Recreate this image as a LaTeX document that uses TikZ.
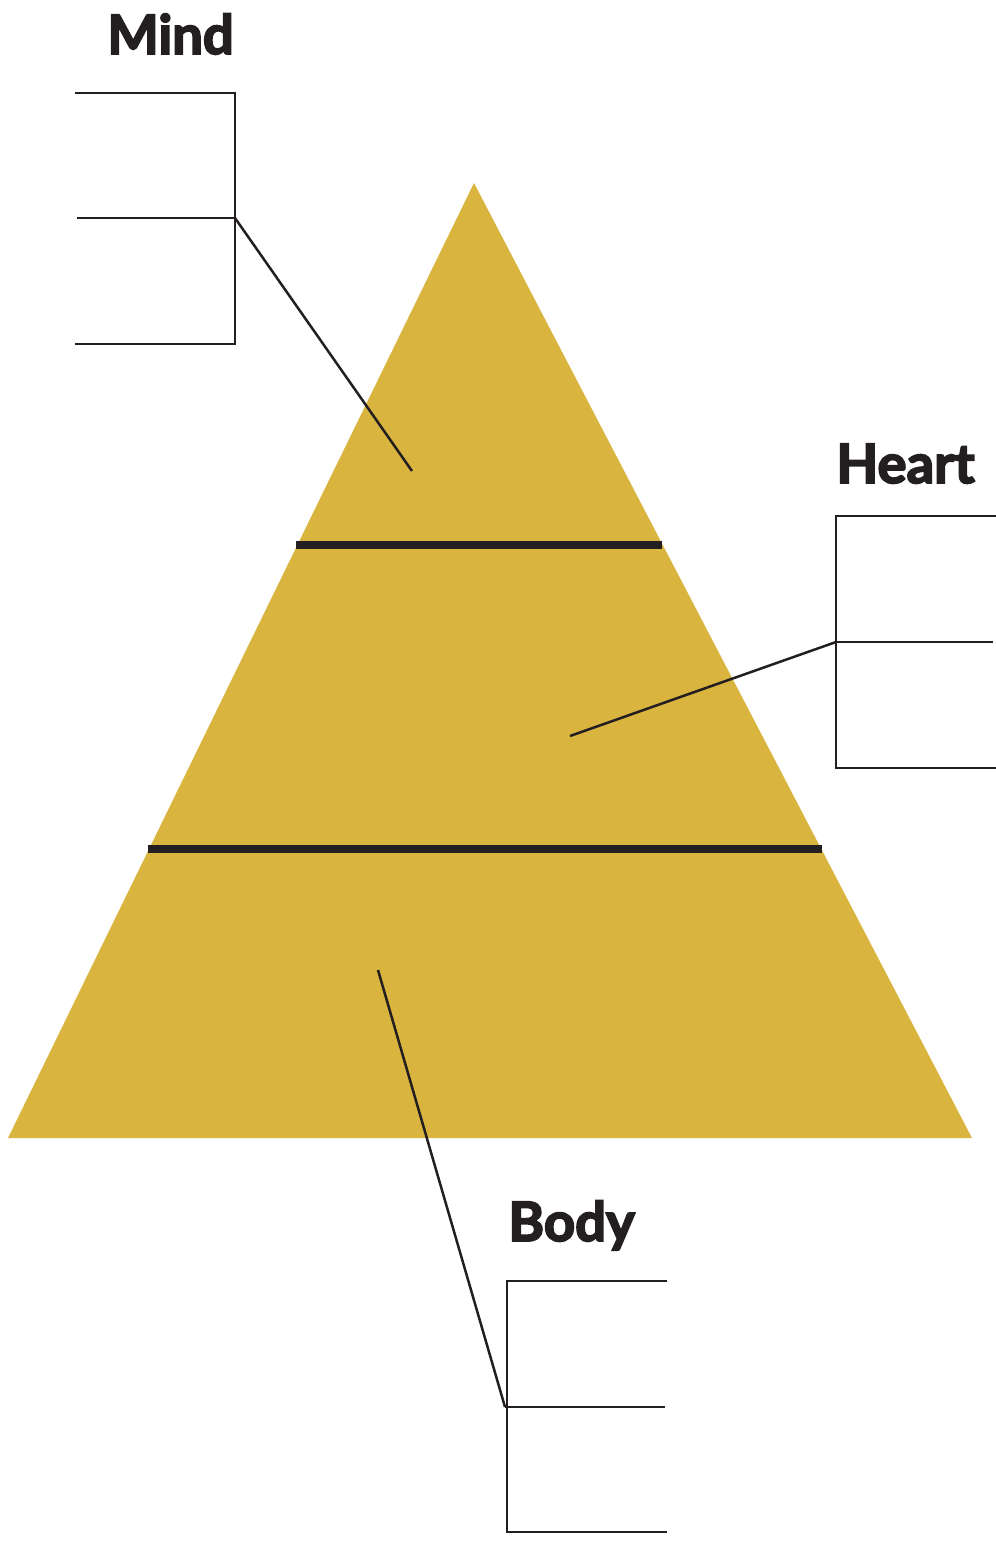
\documentclass[tikz,border=0pt]{standalone}
\usepackage{fontspec}
\setmainfont{Lato}
\definecolor{gold}{HTML}{D9B43F}
\definecolor{ink}{HTML}{231F20}
\newcommand\heavytxt[1]{\special{pdf:literal direct 2 Tr 0.9 w}#1\special{pdf:literal direct 0 Tr}}
\tikzset{
  thinline/.style={draw=ink, line width=1.25pt},
  bar/.style={draw=ink, line width=3.7pt},
  lbl/.style={anchor=base west, inner sep=0pt, text=ink, font=\fontsize{27.2}{30}\selectfont\bfseries}
}
\begin{document}
\begin{tikzpicture}[x=0.5pt,y=-0.5pt]
\useasboundingbox (0,0) rectangle (996,1543);
% pyramid
\fill[gold] (474,183) -- (972,1138) -- (8,1138) -- cycle;
\draw[bar] (296,545) -- (662,545);
\draw[bar, line width=4pt] (148,849) -- (822,849);
% Mind
\node[lbl] (mind) at (107,54) {\heavytxt{Mind}};
\coordinate (m1) at (75,93);
\coordinate (m2) at (235,93);
\coordinate (m3) at (235,344);
\coordinate (m4) at (75,344);
\coordinate (mm) at (235,218);
\coordinate (mml) at (77,218);
\coordinate (mt) at (412,471);
\draw[thinline] (m1) -- (m2) -- (m3) -- (m4);
\draw[thinline] (mml) -- (mm);
\draw[thinline] (mm) -- (mt);
% Heart
\node[lbl] (heart) at (836,483) {\heavytxt{Heart}};
\coordinate (h1) at (996,516);
\coordinate (h2) at (836,516);
\coordinate (h3) at (836,768);
\coordinate (h4) at (996,768);
\coordinate (hm) at (836,642);
\coordinate (hmr) at (993,642);
\coordinate (ht) at (570,736);
\draw[thinline] (h1) -- (h2) -- (h3) -- (h4);
\draw[thinline] (hm) -- (hmr);
\draw[thinline] (hm) -- (ht);
% Body
\node[lbl] (body) at (508,1241) {\heavytxt{Body}};
\coordinate (b1) at (667,1281);
\coordinate (b2) at (507,1281);
\coordinate (b3) at (507,1532);
\coordinate (b4) at (667,1532);
\coordinate (bm) at (505,1407);
\coordinate (bmr) at (665,1407);
\coordinate (bt) at (378,970);
\draw[thinline] (b1) -- (b2) -- (b3) -- (b4);
\draw[thinline] (bm) -- (bmr);
\draw[thinline] (bm) -- (bt);
\end{tikzpicture}
\end{document}
